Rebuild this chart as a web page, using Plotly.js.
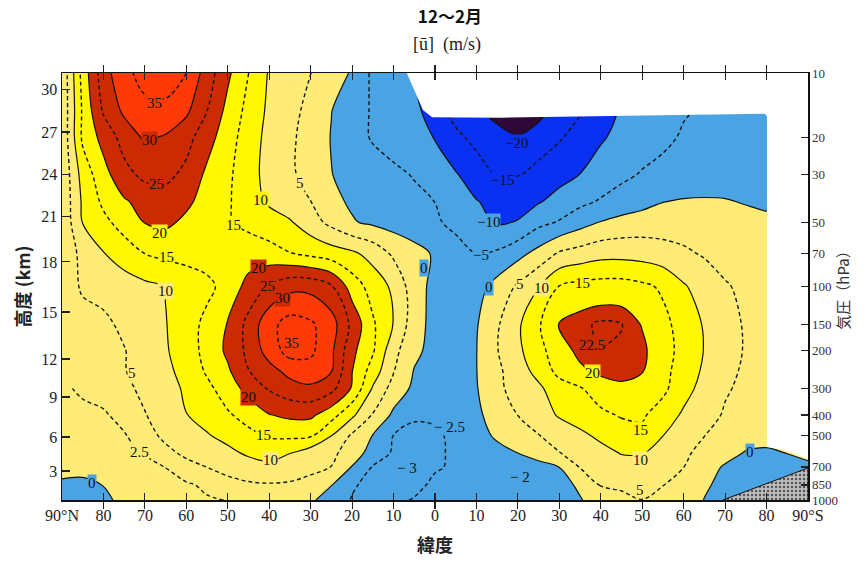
<!DOCTYPE html>
<html><head><meta charset="utf-8">
<script src="https://cdn.plot.ly/plotly-3.0.1.min.js"></script>
<style>html,body{margin:0;padding:0;background:#fff}#chart{width:866px;height:566px}</style>
</head><body><div id="chart"></div>
<script>
// ---- data ----
const latitudes = [90,85,80,75,70,65,60,55,50,45,40,35,30,25,20,15,10,5,0,-5,-10,-15,-20,-25,-30,-35,-40,-45,-50,-55,-60,-65,-70,-75,-80,-85,-90];
const pressureLevels = [1000,850,700,600,500,400,300,250,200,150,100,70,50,40,30,20,15,10];
const u1000 = [-1.5,-1.2,-0.5,0.6,1.2,1.6,2.0,2.3,2.55,2.8,2.7,2.2,0.5,-1.5,-2.6,-2.9,-2.8,-2.4,-2.2,-2.1,-2.0,-2.0,-2.0,-2.1,-2.0,-0.3,2.0,3.8,4.95,3.8,2.0,-0.1,-1.2,-1.5,-1.8,-1.5,-1.0];
const u850  = [-0.3,-0.5,0.05,0.5,1.0,1.6,2.2,2.9,3.7,4.3,4.6,4.3,3.0,0.1,-2.3,-3.0,-3.2,-2.9,-2.2,-2.0,-1.9,-1.9,-2.1,-2.2,-1.7,0.8,5.3,5.8,6.0,5.1,3.0,0.5,-1.0,-1.6,-1.8,-1.5,-1.0];
const u700  = [0.6,0.7,1.0,1.4,1.9,2.55,4.0,5.05,6.3,8.0,8.7,8.0,6.6,4.9,-0.2,-2.6,-3.0,-3.1,-2.65,-2.3,-2.0,-2.0,-2.0,-1.9,0.05,5.3,7.0,8.0,7.9,6.8,5.05,2.0,-0.5,-1.2,-1.4,-1.2,-0.6];
const u600  = [1.2,1.4,1.6,2.0,2.7,4.2,5.7,7.3,8.9,10.8,12.0,10.2,7.5,6.5,2.0,-1.5,-2.7,-3.0,-2.8,-2.2,-1.5,-0.8,0.05,2.5,4.9,6.5,8.5,10.3,10.4,8.2,5.8,3.7,1.8,-0.3,-0.5,0.1,0.8];
const u500  = [1.5,1.8,2.0,2.3,3.8,5.7,7.7,9.6,11.4,13.7,15.5,16.0,15.6,10.05,4.2,-0.2,-2.55,-2.9,-2.8,-2.1,-1.0,0.4,2.8,4.8,7.0,8.9,11.0,12.8,13.8,10.05,7.3,5.05,3.5,2.2,1.2,1.0,1.0];
const u400  = [2.0,2.2,2.2,3.3,4.9,6.0,9.9,11.8,14.4,16.8,19.8,21.0,21.0,17.0,11.0,4.6,-1.0,-2.3,-2.2,-2.0,-0.9,2.0,5.05,7.7,10.5,12.3,14.0,15.4,15.6,12.8,9.2,6.5,4.6,3.6,3.0,3.0,3.0];
const u300  = [2.3,2.7,3.5,4.5,5.5,8.0,10.8,13.8,17.4,21.7,25.5,28.0,29.0,26.5,19.5,9.5,3.0,-1.0,-2.2,-2.3,-0.3,4.0,6.8,9.2,12.5,14.6,17.5,19.0,18.5,16.1,11.9,8.2,5.4,4.2,3.6,3.4,3.4];
const u250  = [2.4,3.4,4.2,4.8,6.5,8.8,11.7,15.6,19.2,24.8,28.1,31.5,33.0,30.2,20.1,12.7,5.2,-0.3,-2.0,-2.4,-0.1,3.9,7.9,11.4,16.6,19.0,21.0,21.4,20.2,16.4,12.8,9.2,6.2,4.3,3.6,3.4,3.4];
const u200  = [2.3,3.2,4.1,4.8,7.0,9.5,12.6,16.5,21.0,26.2,32.2,37.0,36.0,31.0,21.2,15.6,6.5,1.2,-1.8,-2.6,-0.1,4.8,8.9,13.5,17.7,21.3,22.4,22.2,21.0,16.8,13.5,9.8,7.0,4.6,3.6,3.2,3.2];
const u150  = [2.0,2.8,4.1,5.9,7.8,9.8,12.8,16.3,20.3,26.5,33.4,37.0,35.7,32.3,23.6,15.7,9.8,2.2,-1.8,-2.5,-0.4,4.4,9.2,14.4,20.2,21.8,23.0,22.6,19.7,16.2,13.2,9.5,6.8,4.5,3.5,3.2,3.2];
const u100  = [1.5,5.8,6.5,7.7,8.9,10.2,12.0,13.8,16.8,21.7,25.7,28.5,28.5,25.5,17.7,12.9,9.0,2.2,-1.5,-2.8,-2.0,1.8,5.7,9.7,15.2,16.5,17.0,17.0,16.0,14.3,10.5,7.8,5.3,4.3,3.8,3.5,3.5];
const u70   = [1.5,6.4,9.8,12.4,15.05,16.2,16.8,17.2,17.5,17.5,16.8,15.2,13.7,12.3,10.9,8.2,4.1,1.8,-0.6,-3.0,-5.1,-4.3,-1.6,1.7,5.6,7.0,8.3,8.4,8.0,7.0,5.8,4.5,3.8,3.2,2.8,2.5,2.5];
const u50   = [1.0,10.2,13.7,17.1,20.2,21.0,19.0,17.2,15.4,13.8,12.2,10.5,7.2,3.6,0.4,-0.9,-2.0,-3.2,-4.3,-6.3,-8.6,-10.5,-9.8,-6.4,-4.6,-2.0,0.2,1.5,2.2,2.5,2.6,2.5,2.2,1.5,0.8,0.5,0.5];
const u40   = [1.0,10.8,16.0,19.4,21.8,22.7,21.0,18.1,15.6,12.2,9.2,7.1,5.05,1.2,-0.7,-1.8,-2.9,-3.9,-5.05,-7.4,-9.8,-11.2,-11.4,-10.4,-8.3,-6.2,-4.5,-3.0,-1.6,-0.1,0.4,0.5,0.3,-0.3,-0.7,-0.8,-0.8];
const u30   = [1.0,12.0,18.2,23.4,26.2,26.3,23.7,19.0,16.0,11.8,8.4,5.9,3.0,0.1,-1.3,-2.6,-4.0,-5.3,-7.5,-9.6,-12.4,-15.2,-15.2,-13.1,-11.6,-9.9,-8.0,-6.0,-4.6,-3.9,-3.3,-2.8,-2.4,-2.1,-1.9,-1.8,-1.8];
const u20   = [1.0,16.0,21.7,27.0,30.8,29.5,26.8,22.0,17.2,12.5,8.5,5.9,3.0,-0.2,-2.8,-5.5,-7.0,-8.5,-10.2,-13.8,-16.5,-18.0,-19.5,-18.0,-15.5,-13.0,-10.5,-8.8,-7.3,-5.8,-4.6,-3.8,-3.2,-2.7,-2.3,-2.0,-2.0];
const u15   = [1.0,15.8,25.7,31.0,33.5,33.8,31.0,25.05,18.5,13.5,9.0,6.4,3.7,0.1,-2.8,-5.5,-7.5,-9.0,-12.0,-17.0,-19.0,-22.0,-25.0,-21.5,-18.0,-15.5,-12.0,-9.5,-8.0,-6.5,-5.3,-4.5,-3.8,-3.2,-2.7,-2.5,-2.5];
const u10   = [1.0,17.0,28.0,33.5,37.0,37.5,35.05,27.5,21.0,15.05,9.5,7.0,5.05,2.5,-0.5,-6.0,-8.0,-10.05,-12.0,-16.0,-20.05,-23.0,-25.0,-23.0,-19.0,-15.05,-12.0,-9.5,-8.0,-6.5,-5.5,-4.5,-4.0,-3.5,-3.0,-3.0,-3.0];
const windRows = [u1000,u850,u700,u600,u500,u400,u300,u250,u200,u150,u100,u70,u50,u40,u30,u20,u15,u10];

// region without data (blank in the original) and the surface (Antarctica)
const noDataLat = [6.8,4.8,2.9,0.7,-15.7,-79.6,-80.1,-80.1,-84.5,-90,-90];
const noDataP   = [10,12.3,14.9,16.1,16.2,15.5,16,564,586,643,10];
const terrainLat = [-69.5,-76,-84,-90,-90];
const terrainP   = [1000,898,780,708,1000];

// tick labels
const xTickVals = [90,80,70,60,50,40,30,20,10,0,-10,-20,-30,-40,-50,-60,-70,-80,-90];
const xTickText = ['90°N','80','70','60','50','40','30','20','10','0','10','20','30','40','50','60','70','80','90°S'];
const kmTickP    = [731,507,329,218.5,131.6,76.7,47.2,30.0,18.9,11.9];
const kmTickText = ['3','6','9','12','15','18','21','24','27','30'];
const hPaTicks = [10,20,30,50,70,100,150,200,300,400,500,700,850,1000];
const hPaText  = ['10','20','30','50','70','100','150','200','300','400','500','700','850','1000'];

// ---- styling ----
const C = {purple:'#300838', dblue:'#0a30f2', lblue:'#4aa3e2', lyel:'#ffec76', yel:'#fff800', dred:'#cc2a02', bred:'#ff3a06'};
const f = k => k/12;
const stepScale = [
  [0,C.purple],[f(1),C.purple],[f(1),C.dblue],[f(3),C.dblue],[f(3),C.lblue],[f(5),C.lblue],
  [f(5),C.lyel],[f(7),C.lyel],[f(7),C.yel],[f(9),C.yel],[f(9),C.dred],[f(11),C.dred],[f(11),C.bred],[1,C.bred]];

function sub(r0,r1,c0,c1){
  return {x: latitudes.slice(c0,c1+1), y: pressureLevels.slice(r0,r1+1),
          z: windRows.slice(r0,r1+1).map(r => r.slice(c0,c1+1))};
}
const dashLine = {color:'#151515', width:1.4, dash:'4px,3px', smoothing:1};
function extraLevel(s, lev){
  return Object.assign({type:'contour', showscale:false, hoverinfo:'skip',
    contours:{start:lev,end:lev,size:1,coloring:'none'}, line:dashLine}, s);
}

const traces = [
  {type:'contour', x:latitudes, y:pressureLevels, z:windRows,
   contours:{start:-20,end:30,size:10,coloring:'fill',showlines:true},
   line:{color:'#111',width:1.2,smoothing:1}, colorscale:stepScale, showscale:false, hoverinfo:'skip'},
  {type:'contour', x:latitudes, y:pressureLevels, z:windRows,
   contours:{start:-15,end:35,size:10,coloring:'none'}, line:dashLine, showscale:false, hoverinfo:'skip'},
  extraLevel(sub(0,6,0,9), 2.5),
  extraLevel(sub(5,11,23,30), 22.5),
  extraLevel(sub(0,5,13,19), -2.5),
  {type:'scatter', mode:'lines', x:noDataLat, y:noDataP, fill:'toself', fillcolor:'#ffffff',
   line:{width:0,color:'rgba(0,0,0,0)'}, hoverinfo:'skip'},
  {type:'scatter', mode:'lines', x:terrainLat, y:terrainP, yaxis:'y2', fill:'toself', fillcolor:'#b8b8b8',
   fillpattern:{shape:'.', bgcolor:'#bdbdbd', fgcolor:'#555', size:4, solidity:0.3},
   line:{width:1,color:'#111'}, hoverinfo:'skip'}
];

// contour labels [text, lat, hPa, background]
const labels = [
  ['35',67.6,13.8,'bred'],['30',68.8,20.6,'dred'],['25',67.1,33.1,'dred'],['20',66.4,56.1,'yel'],
  ['15',64.7,72.7,'yel'],['10',65.1,104.9,'lyel'],['10',42.0,39.3,'yel'],['5',32.6,32.7,'lyel'],
  ['15',48.7,51.5,'yel'],['20',42.7,81.8,'dred'],['25',40.5,99,'dred'],['30',36.7,113.2,'dred'],
  ['35',34.7,183.8,'bred'],['20',45.1,329,'dred'],['15',41.3,495,'yel'],['10',39.8,650,'lyel'],
  ['5',73.1,254,'lyel'],['2.5',71.2,596,'lyel'],['0',82.8,833,'lblue'],['0',2.6,81.8,'lblue'],
  ['−5',-11.1,71.1,'lblue'],['−10',-12.8,49.9,'lblue'],['−15',-16.4,31.7,'dblue'],['−20',-19.6,21.3,'dblue'],
  ['− 2.5',-3.6,455,'lblue'],['− 3',6.7,708,'lblue'],['− 2',-20.5,780,'lblue'],
  ['0',-13,100.4,'lblue'],['5',-20.5,97.2,'lyel'],['10',-25.6,101.7,'lyel'],['15',-35.5,96.3,'yel'],
  ['22.5',-37.9,188,'dred'],['20',-37.9,254,'yel'],['15',-49.5,470,'yel'],['10',-49.5,650,'lyel'],
  ['5',-49.5,898,'lyel'],['0',-76,596,'lblue']
];
const annotations = labels.map(([t,la,p,bg]) => ({
  x:la, y:Math.log10(p), xref:'x', yref:'y', text:t, showarrow:false,
  font:{family:'Liberation Serif, serif', size:15, color:'#111'}, bgcolor:C[bg], borderpad:0
}));
annotations.push({x:0.516, y:1.0656, xref:'paper', yref:'paper', yanchor:'middle', xanchor:'center',
  text:'[ū]  (m/s)', showarrow:false, font:{family:'Liberation Serif, serif', size:18, color:'#222'}});

const layout = {
  width:866, height:566, margin:{l:62,r:58,t:73,b:66},
  paper_bgcolor:'#ffffff', plot_bgcolor:'#ffffff', showlegend:false,
  font:{family:'Liberation Serif, serif', color:'#1a1a1a'},
  title:{text:'<b>12～2月</b>', x:0.52, xref:'paper', xanchor:'center', y:1-17/566, yref:'container', yanchor:'middle',
         font:{family:'Noto Sans CJK JP', size:17, color:'#111'}},
  xaxis:{range:[90,-90], tickmode:'array', tickvals:xTickVals, ticktext:xTickText,
         ticks:'inside', ticklen:7, tickwidth:1.2, tickcolor:'#222', showline:true, linecolor:'#111', linewidth:1.5,
         mirror:'allticks', showgrid:false, zeroline:false, tickfont:{size:16, color:'#222'},
         title:{text:'<b>緯度</b>', font:{family:'Noto Sans CJK JP', size:18, color:'#222'}, standoff:16}},
  yaxis:{type:'log', range:[3,1], tickmode:'array', tickvals:kmTickP, ticktext:kmTickText,
         ticks:'inside', ticklen:8, tickwidth:1.2, tickcolor:'#222', showline:true, linecolor:'#111', linewidth:1.5,
         showgrid:false, zeroline:false, tickfont:{size:16, color:'#222'},
         title:{text:'<b>高度 (km)</b>', font:{family:'Noto Sans CJK JP', size:18, color:'#222'}, standoff:6}},
  yaxis2:{type:'log', range:[3,1], overlaying:'y', side:'right', tickmode:'array', tickvals:hPaTicks, ticktext:hPaText,
          ticks:'inside', ticklen:7, tickwidth:1.2, tickcolor:'#222', showline:true, linecolor:'#111', linewidth:1.5,
          showgrid:false, zeroline:false, tickfont:{size:13, color:'#333'},
          title:{text:'気圧（hPa）', font:{family:'Noto Sans CJK JP', size:15, color:'#333'}, standoff:0}},
  annotations: annotations
};
Plotly.newPlot('chart', traces, layout, {staticPlot:true});
</script>
</body></html>
